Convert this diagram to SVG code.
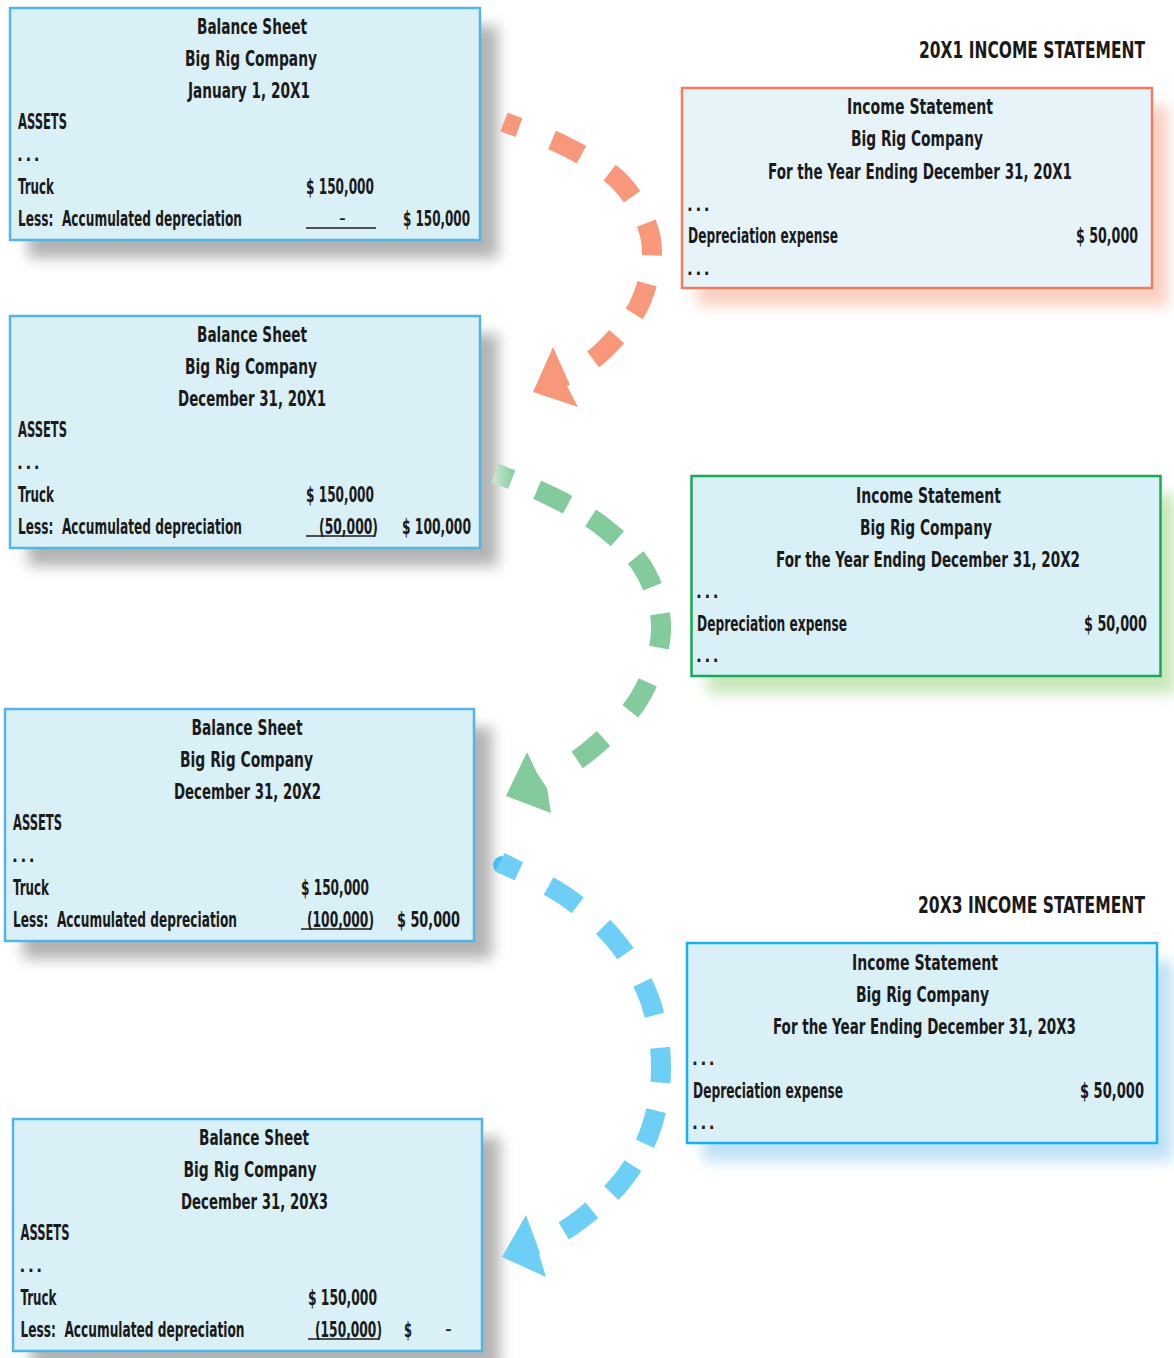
<svg xmlns="http://www.w3.org/2000/svg" width="1174" height="1358" viewBox="0 0 1174 1358">
<defs>
<filter id="blur" x="-20%" y="-20%" width="140%" height="140%"><feGaussianBlur stdDeviation="7"/></filter>
<linearGradient id="gfade" gradientUnits="userSpaceOnUse" x1="494" y1="0" x2="516" y2="0">
<stop offset="0" stop-color="#c4e7cf"/><stop offset="1" stop-color="#83ca9c"/>
</linearGradient>
<style>
text{font-family:"Liberation Sans Narrow","Arial Narrow","DejaVu Sans Condensed","Liberation Sans",sans-serif;font-weight:bold;font-size:21px;fill:#1a1a1a}
.c{text-anchor:middle}
.ttl{font-size:23px;text-anchor:end}
.dots{font-size:17px;letter-spacing:2.6px}
.bs{fill:#daf0f7;stroke:#52b5e5;stroke-width:2.5}
.sh{fill:#9a9a9a;opacity:.75}
.ul{stroke:#1a1a1a;stroke-width:1.6}
.dash{fill:none;stroke-width:20}
</style>
</defs>

<g id="title-20x1"><text class="ttl" x="1145" y="58" textLength="226" lengthAdjust="spacingAndGlyphs">20X1 INCOME STATEMENT</text></g>
<g id="title-20x3"><text class="ttl" x="1145" y="913" textLength="227" lengthAdjust="spacingAndGlyphs">20X3 INCOME STATEMENT</text></g>

<g id="bs1">
<rect class="sh" x="28" y="26" width="470" height="232" filter="url(#blur)"/>
<rect class="bs" x="10" y="8" width="470" height="232"/>
<text class="c" x="252" y="34" textLength="110" lengthAdjust="spacingAndGlyphs">Balance Sheet</text>
<text class="c" x="251" y="66" textLength="132" lengthAdjust="spacingAndGlyphs">Big Rig Company</text>
<text class="c" x="249" y="98" textLength="122" lengthAdjust="spacingAndGlyphs">January 1, 20X1</text>
<text x="18" y="129" textLength="49" lengthAdjust="spacingAndGlyphs">ASSETS</text>
<text class="dots" x="17" y="161">...</text>
<text x="18" y="194" textLength="36" lengthAdjust="spacingAndGlyphs">Truck</text>
<text x="306" y="194" textLength="68" lengthAdjust="spacingAndGlyphs">$ 150,000</text>
<text x="18" y="226" textLength="224" lengthAdjust="spacingAndGlyphs">Less:&#160; Accumulated depreciation</text>
<text x="339" y="225" style="font-weight:normal">-</text>
<line class="ul" x1="306" y1="228" x2="376" y2="228"/>
<text x="403" y="226" textLength="67" lengthAdjust="spacingAndGlyphs">$ 150,000</text>
</g>

<g id="bs2">
<rect class="sh" x="28" y="334" width="470" height="232" filter="url(#blur)"/>
<rect class="bs" x="10" y="316" width="470" height="232"/>
<text class="c" x="252" y="342" textLength="110" lengthAdjust="spacingAndGlyphs">Balance Sheet</text>
<text class="c" x="251" y="374" textLength="132" lengthAdjust="spacingAndGlyphs">Big Rig Company</text>
<text class="c" x="252" y="406" textLength="148" lengthAdjust="spacingAndGlyphs">December 31, 20X1</text>
<text x="18" y="437" textLength="49" lengthAdjust="spacingAndGlyphs">ASSETS</text>
<text class="dots" x="17" y="469">...</text>
<text x="18" y="502" textLength="36" lengthAdjust="spacingAndGlyphs">Truck</text>
<text x="306" y="502" textLength="68" lengthAdjust="spacingAndGlyphs">$ 150,000</text>
<text x="18" y="534" textLength="224" lengthAdjust="spacingAndGlyphs">Less:&#160; Accumulated depreciation</text>
<text x="319" y="534" textLength="59" lengthAdjust="spacingAndGlyphs">(50,000)</text>
<line class="ul" x1="306" y1="536" x2="375" y2="536"/>
<text x="402" y="534" textLength="69" lengthAdjust="spacingAndGlyphs">$ 100,000</text>
</g>

<g id="bs3">
<rect class="sh" x="23" y="727" width="469" height="232" filter="url(#blur)"/>
<rect class="bs" x="5" y="709" width="469" height="232"/>
<text class="c" x="247" y="735" textLength="111" lengthAdjust="spacingAndGlyphs">Balance Sheet</text>
<text class="c" x="246.5" y="767" textLength="133" lengthAdjust="spacingAndGlyphs">Big Rig Company</text>
<text class="c" x="247.5" y="799" textLength="147" lengthAdjust="spacingAndGlyphs">December 31, 20X2</text>
<text x="13" y="830" textLength="49" lengthAdjust="spacingAndGlyphs">ASSETS</text>
<text class="dots" x="12" y="862">...</text>
<text x="13" y="895" textLength="36" lengthAdjust="spacingAndGlyphs">Truck</text>
<text x="301" y="895" textLength="68" lengthAdjust="spacingAndGlyphs">$ 150,000</text>
<text x="13" y="927" textLength="224" lengthAdjust="spacingAndGlyphs">Less:&#160; Accumulated depreciation</text>
<text x="307" y="927" textLength="67" lengthAdjust="spacingAndGlyphs">(100,000)</text>
<line class="ul" x1="301" y1="929" x2="371" y2="929"/>
<text x="397" y="927" textLength="63" lengthAdjust="spacingAndGlyphs">$ 50,000</text>
</g>

<g id="bs4">
<rect class="sh" x="31" y="1137" width="469" height="232" filter="url(#blur)"/>
<rect class="bs" x="13" y="1119" width="469" height="232"/>
<text class="c" x="254" y="1145" textLength="110" lengthAdjust="spacingAndGlyphs">Balance Sheet</text>
<text class="c" x="250" y="1177" textLength="133" lengthAdjust="spacingAndGlyphs">Big Rig Company</text>
<text class="c" x="254.5" y="1209" textLength="147" lengthAdjust="spacingAndGlyphs">December 31, 20X3</text>
<text x="20.5" y="1240" textLength="49" lengthAdjust="spacingAndGlyphs">ASSETS</text>
<text class="dots" x="19.5" y="1272">...</text>
<text x="20.5" y="1305" textLength="36" lengthAdjust="spacingAndGlyphs">Truck</text>
<text x="308" y="1305" textLength="69" lengthAdjust="spacingAndGlyphs">$ 150,000</text>
<text x="20.5" y="1337" textLength="224" lengthAdjust="spacingAndGlyphs">Less:&#160; Accumulated depreciation</text>
<text x="315" y="1337" textLength="67" lengthAdjust="spacingAndGlyphs">(150,000)</text>
<line class="ul" x1="308" y1="1339" x2="378" y2="1339"/>
<text x="404" y="1337" textLength="8" lengthAdjust="spacingAndGlyphs">$</text>
<text x="445" y="1336" style="font-weight:normal">-</text>
</g>

<g id="is1">
<rect x="698" y="106" width="470" height="200" fill="#f9c4b2" opacity=".8" filter="url(#blur)"/>
<rect x="682" y="88" width="470" height="200" fill="#e6f4fa" stroke="#f27c60" stroke-width="2.5"/>
<text class="c" x="920" y="114" textLength="146" lengthAdjust="spacingAndGlyphs">Income Statement</text>
<text class="c" x="917" y="146" textLength="132" lengthAdjust="spacingAndGlyphs">Big Rig Company</text>
<text class="c" x="920" y="179" textLength="304" lengthAdjust="spacingAndGlyphs">For the Year Ending December 31, 20X1</text>
<text class="dots" x="687" y="211">...</text>
<text x="688" y="243" textLength="150" lengthAdjust="spacingAndGlyphs">Depreciation expense</text>
<text x="1076" y="243" textLength="62" lengthAdjust="spacingAndGlyphs">$ 50,000</text>
<text class="dots" x="687" y="275">...</text>
</g>

<g id="is2">
<rect x="707" y="494" width="469" height="200" fill="#bfe3ae" opacity=".85" filter="url(#blur)"/>
<rect x="691.5" y="476" width="469" height="200" fill="#daf0f7" stroke="#18a954" stroke-width="2.5"/>
<text class="c" x="928.5" y="503" textLength="145" lengthAdjust="spacingAndGlyphs">Income Statement</text>
<text class="c" x="926" y="535" textLength="132" lengthAdjust="spacingAndGlyphs">Big Rig Company</text>
<text class="c" x="928" y="567" textLength="304" lengthAdjust="spacingAndGlyphs">For the Year Ending December 31, 20X2</text>
<text class="dots" x="696" y="598">...</text>
<text x="697" y="631" textLength="150" lengthAdjust="spacingAndGlyphs">Depreciation expense</text>
<text x="1084" y="631" textLength="63" lengthAdjust="spacingAndGlyphs">$ 50,000</text>
<text class="dots" x="696" y="662">...</text>
</g>

<g id="is3">
<rect x="703" y="961" width="470" height="200" fill="#b3dcf3" opacity=".85" filter="url(#blur)"/>
<rect x="687" y="943" width="470" height="200" fill="#daf0f7" stroke="#16b0ea" stroke-width="2.5"/>
<text class="c" x="925" y="970" textLength="146" lengthAdjust="spacingAndGlyphs">Income Statement</text>
<text class="c" x="922.5" y="1002" textLength="133" lengthAdjust="spacingAndGlyphs">Big Rig Company</text>
<text class="c" x="924.5" y="1034" textLength="303" lengthAdjust="spacingAndGlyphs">For the Year Ending December 31, 20X3</text>
<text class="dots" x="692" y="1065">...</text>
<text x="693" y="1098" textLength="150" lengthAdjust="spacingAndGlyphs">Depreciation expense</text>
<text x="1080" y="1098" textLength="64" lengthAdjust="spacingAndGlyphs">$ 50,000</text>
<text class="dots" x="692" y="1129">...</text>
</g>

<g id="connectors">
<path class="dash" stroke="#f7987a" stroke-dasharray="16 35.3 33 33.3 33 30.1 33 28.8 33 28.4 33 100" d="M504 122 C525 130.3 547.3 136.7 567 147 C586.7 157.3 608 168.5 622 184 C636 199.5 647.8 220.5 651 240 C654.2 259.5 648.8 282.7 641 301 C633.2 319.3 616.5 337.3 604 350 C591.5 362.7 578.7 368 566 377"/>
<polygon fill="#f7987a" points="553,347 570,385 567,386 578,407 533,392"/>
<path class="dash" stroke="url(#gfade)" stroke-dasharray="18 27.3 34 26.5 34 26.1 34 28 34 36.5 34 38.1 34 100" d="M495 473 C514.2 481 534.3 487.8 552.5 497 C570.8 506.2 589 515.5 604.5 528 C620 540.5 636.1 554.7 645.5 572 C654.9 589.3 662.1 610.8 661 632 C659.9 653.2 651 679.2 639 699 C627 718.8 605.7 737.1 589 751 C572.3 764.9 555.7 772 539 782.5"/>
<polygon fill="#83ca9c" points="527,752 537,773 547,788 551,813 506,796"/>
<circle cx="502" cy="865" r="9" fill="#45bdee"/>
<path class="dash" stroke="#6dcff6" stroke-dasharray="21 33.1 35 33.4 35 33.3 35 33 35 28.3 35 25 35 25.9 35 100" d="M500 862 C521.2 873 544.3 882 563.5 895 C582.7 908 600.7 922.7 615 940 C629.3 957.3 641.8 978 649.5 999 C657.2 1020 660.8 1044.4 661 1066 C661.3 1087.6 657.5 1109.3 651 1128.5 C644.5 1147.7 634.3 1165.4 622 1181 C609.7 1196.6 591.3 1211.2 577 1222 C562.7 1232.8 549.7 1238 536 1246"/>
<polygon fill="#6dcff6" points="526,1215 540,1253 539,1254 546,1277 502,1257"/>
</g>
</svg>
